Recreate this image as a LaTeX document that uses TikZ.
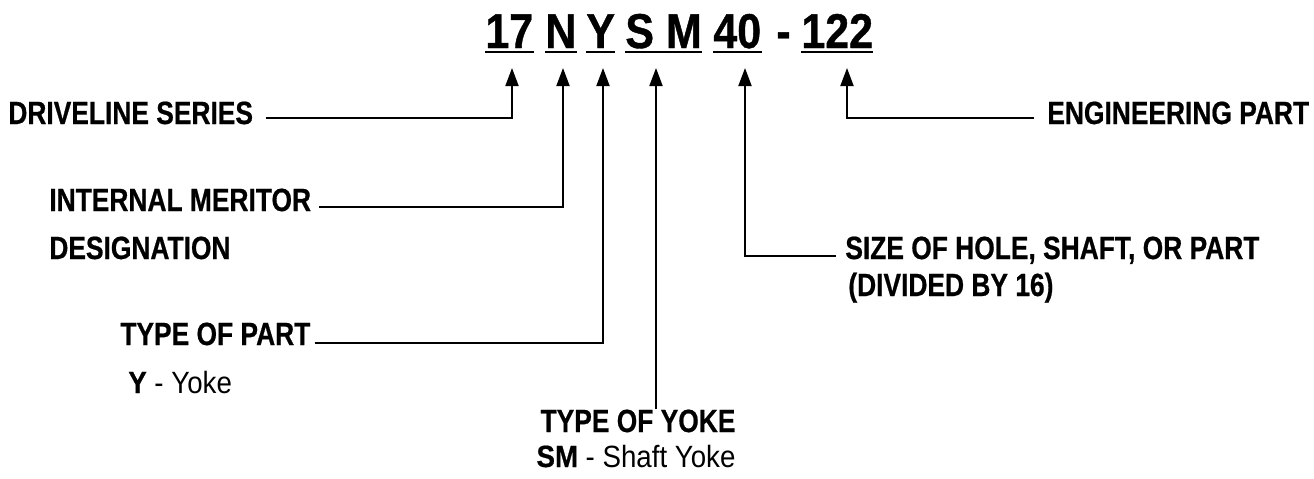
\documentclass[tikz,border=0pt]{standalone}
\usepackage{fontspec}
\setmainfont{Liberation Sans}[FakeStretch=0.82, BoldFeatures={FakeBold=0.6}]
\newfontfamily\titlefont{Liberation Sans}[FakeStretch=0.88, BoldFeatures={FakeBold=0.8}]
\newfontfamily\notefont{Liberation Sans}[FakeStretch=0.9, BoldFeatures={FakeBold=0.6}]
\usetikzlibrary{arrows.meta}
\tikzset{
  lbl/.style={font=\fontsize{18.3}{22}\selectfont\bfseries, inner sep=0pt, anchor=base west},
  note/.style={font=\notefont\fontsize{17.5}{21}\selectfont, inner sep=0pt, anchor=base west},
  ttl/.style={font=\titlefont\fontsize{27.8}{32}\selectfont\bfseries, inner sep=0pt, anchor=base west},
  uline/.style={line width=1.4pt},
  pointer/.style={-{Triangle[length=3.6mm, width=2.6mm]}, line width=1.1pt, black}
}

\begin{document}
\begin{tikzpicture}[x=0.02cm, y=-0.02cm]
\useasboundingbox (0,0) rectangle (1314,478);

% Part number
\node[ttl] (t17) at (485,48) {17};
\node[ttl] (tN) at (545,48) {N};
\node[ttl] (tY) at (586,48) {Y};
\node[ttl] (tSM) at (625,48) {S M};
\node[ttl] (t40) at (713,48) {40};
\node[ttl] (tdash) at (776,48) {-};
\node[ttl] (t122) at (801,48) {122};

\foreach \n in {t17,tN,tY,tSM,t40,t122}
  \draw[uline] ([shift={(0,4)}]\n.base west) -- ([shift={(0,4)}]\n.base east);

% Arrow tips under the part number
\coordinate (a17) at (512,68);
\coordinate (aN) at (563,68);
\coordinate (aY) at (603,68);
\coordinate (aSM) at (656,68);
\coordinate (a40) at (745,68);
\coordinate (a122) at (847,68);

% Labels
\node[lbl] (drive) at (8,124) {DRIVELINE SERIES};
\node[lbl] (merit) at (49,211) {INTERNAL MERITOR};
\node[lbl] (desig) at (49,259) {DESIGNATION};
\node[lbl] (ptype) at (120,345) {TYPE OF PART};
\node[note] (ptypeY) at (128,393) {\textbf{Y} - Yoke};
\node[lbl, anchor=base] (ytype) at (638,432) {TYPE OF YOKE};
\node[note, anchor=base] (ytypeSM) at (636,467) {\textbf{SM} - Shaft Yoke};
\node[lbl] (size) at (845,259) {SIZE OF HOLE, SHAFT, OR PART};
\node[lbl] (sizediv) at (848,296) {(DIVIDED BY 16)};
\node[lbl] (eng) at (1047,124) {ENGINEERING PART};

% Leaders
\draw[pointer] ([shift={(13,-6)}]drive.base east) -| (a17);
\draw[pointer] ([shift={(8,-4)}]merit.base east) -| (aN);
\draw[pointer] ([shift={(4,-2)}]ptype.base east) -| (aY);
\draw[pointer] (ytype.north -| aSM) -- (aSM);
\draw[pointer] ([shift={(-9,-3)}]size.base west) -| (a40);
\draw[pointer] ([shift={(-13,-6)}]eng.base west) -| (a122);

\end{tikzpicture}
\end{document}
